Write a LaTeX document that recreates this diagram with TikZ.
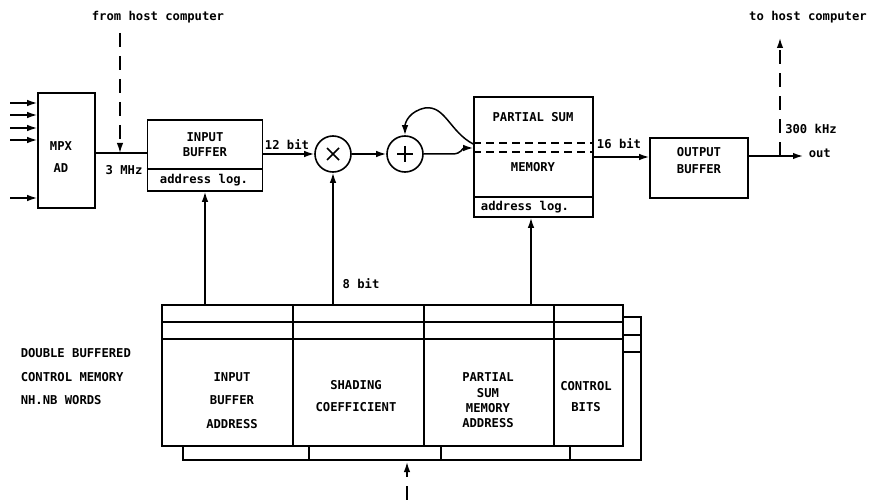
\documentclass[tikz,border=0pt]{standalone}
\usepackage{fontspec}
\setmonofont{DejaVu Sans Mono}
\usetikzlibrary{arrows.meta}
\begin{document}
\begin{tikzpicture}[x=1pt,y=-1pt,line width=1.5pt,
  blk/.style={draw, line width=1.6pt, inner sep=0pt},
  lbl/.style={font=\fontsize{12.2}{14}\ttfamily\bfseries, inner sep=0pt},
  arr/.style={-{Latex[length=10pt,width=6.5pt]}},
  dsh/.style={dash pattern=on 14pt off 9pt},
  sumc/.style={draw, circle, line width=1.6pt, minimum size=36pt, inner sep=0pt}]
\useasboundingbox (0,0) rectangle (871,500);

% blocks
\node[blk, minimum width=57pt, minimum height=115pt] (mpx) at (66.5,150.5) {};
\node[lbl] at (61,146) {MPX};
\node[lbl] at (61,168) {AD};

\node[blk, minimum width=115pt, minimum height=71pt] (ib) at (205,155.5) {};
\draw (ib.west |- 0,169) -- (ib.east |- 0,169);
\node[lbl] at (205,137) {INPUT};
\node[lbl] at (205,152) {BUFFER};
\node[lbl] at (204,180) {address log.};

\node[sumc] (mul) at (333,154) {};
\draw[line width=1.7pt] ([shift={(-6,-6)}]mul.center) -- ([shift={(6,6)}]mul.center)
  ([shift={(-6,6)}]mul.center) -- ([shift={(6,-6)}]mul.center);
\node[sumc] (add) at (405,154) {};
\draw[line width=1.7pt] ([shift={(-8,0)}]add.center) -- ([shift={(8,0)}]add.center)
  ([shift={(0,-8)}]add.center) -- ([shift={(0,8)}]add.center);

\node[blk, minimum width=119pt, minimum height=120pt] (ps) at (533.5,157) {};
\draw (ps.west |- 0,197) -- (ps.east |- 0,197);
\draw[dash pattern=on 8pt off 5pt] (ps.west |- 0,143) -- (ps.east |- 0,143);
\draw[dash pattern=on 8pt off 5pt] (ps.west |- 0,152) -- (ps.east |- 0,152);
\node[lbl] at (533,117) {PARTIAL SUM};
\node[lbl] at (533,167) {MEMORY};
\node[lbl] at (525,207) {address log.};

\node[blk, minimum width=98pt, minimum height=60pt] (ob) at (699,168) {};
\node[lbl] at (699,152) {OUTPUT};
\node[lbl] at (699,169) {BUFFER};

% inputs to MPX
\foreach \yy/\nm in {103/i1,115/i2,128/i3,140/i4,198/i5} {
  \coordinate (\nm) at (10,\yy);
  \draw[arr] (\nm) -- (\nm -| mpx.west);
}

% from host computer
\node[lbl] (from) at (158,17) {from host computer};
\coordinate (fh) at (120,33);
\coordinate (j1) at (120,153);
\draw (mpx.east |- j1) -- (ib.west |- j1);
\draw[arr,dsh] (fh) -- (j1);
\node[lbl] at (124,170) {3 MHz};

% input buffer to multiplier
\draw[arr] (ib.east |- mul) -- (mul.west);
\node[lbl] at (287,145) {12 bit};
\draw[arr] (mul.east) -- (add.west);

% adder to partial sum
\coordinate (pin) at (ps.west |- 0,148);
\draw[arr] (add.east) -- (452,154) .. controls (462,154) and (462,148) .. (pin);
% feedback
\coordinate (pout) at (ps.west |- 0,144);
\draw[arr] (pout) .. controls (450,132) and (445,105) .. (425,108) .. controls (410,111) and (405,122) .. (add.north);

% partial sum to output buffer
\draw[arr] (ps.east |- 0,157) -- (ob.west |- 0,157);
\node[lbl] at (619,144) {16 bit};

% output
\coordinate (outp) at (803,156);
\draw[arr] (ob.east |- outp) -- (outp);
\node[lbl, anchor=west] at (808,153) {out};
\coordinate (j2) at (780,156);
\coordinate (th) at (780,38);
\draw[arr,dsh] (j2) -- (th);
\node[lbl] (to) at (808,17) {to host computer};
\node[lbl] at (811,129) {300 kHz};

% control memory
\node[blk, minimum width=461pt, minimum height=141pt] (cm) at (392.5,375.5) {};
\draw (cm.west |- 0,322) -- (cm.east |- 0,322);
\draw (cm.west |- 0,339) -- (cm.east |- 0,339);
\foreach \xx in {293,424,554} \draw (\xx,0 |- cm.north) -- (\xx,0 |- cm.south);
% back buffer frame
\draw (183,0 |- cm.south) -- (183,460) -- (641,460) -- (641,317) -- (cm.east |- 0,317);
\draw (cm.east |- 0,335) -- (641,335);
\draw (cm.east |- 0,352) -- (641,352);
\foreach \xx in {309,441,570} \draw (\xx,0 |- cm.south) -- (\xx,460);

\node[lbl] at (232,377) {INPUT};
\node[lbl] at (232,400) {BUFFER};
\node[lbl] at (232,424) {ADDRESS};
\node[lbl] at (356,385) {SHADING};
\node[lbl] at (356,407) {COEFFICIENT};
\node[lbl] at (488,377) {PARTIAL};
\node[lbl] at (488,393) {SUM};
\node[lbl] at (488,408) {MEMORY};
\node[lbl] at (488,423) {ADDRESS};
\node[lbl] at (586,386) {CONTROL};
\node[lbl] at (586,407) {BITS};

\node[lbl, anchor=west] at (20,353) {DOUBLE BUFFERED};
\node[lbl, anchor=west] at (20,377) {CONTROL MEMORY};
\node[lbl, anchor=west] at (20,400) {NH.NB WORDS};

% control lines up
\draw[arr] (ib.south |- cm.north) -- (ib.south);
\draw[arr] (mul.south |- cm.north) -- (mul.south);
\node[lbl] at (361,284) {8 bit};
\draw[arr] (531,0 |- cm.north) -- (531,0 |- ps.south);

% load from below
\coordinate (ld) at (407,500);
\draw[arr,dsh] (ld) -- (407,462);
\end{tikzpicture}
\end{document}
